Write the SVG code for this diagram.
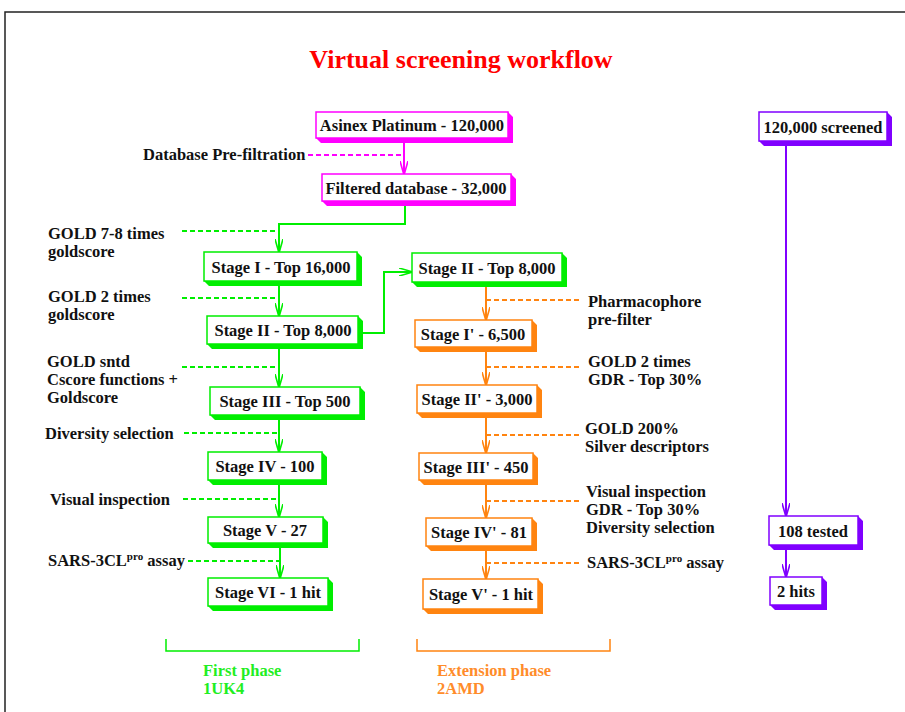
<svg xmlns="http://www.w3.org/2000/svg" width="905" height="712" viewBox="0 0 905 712">
<style>
text{font-family:"Liberation Serif","Times New Roman",serif;font-weight:bold;font-size:16.5px;fill:#111}
.c{text-anchor:middle}
.box{fill:#fff;stroke-width:1.5}
.m .box{stroke:#ff00ff}.m .sh{fill:#ff00ff}
.g .box{stroke:#00ee00}.g .sh{fill:#00ee00}
.o .box{stroke:#ff8410}.o .sh{fill:#ff8410}
.p .box{stroke:#8000ff}.p .sh{fill:#8000ff}
.ln{fill:none;stroke-width:2}
.d{stroke-dasharray:5,3}
.lm{stroke:#ff00ff}.lg{stroke:#00ee00}.lo{stroke:#ff8410}.lp{stroke:#8000ff}
</style>
<defs>
<marker id="am" viewBox="0 0 14 8" refX="13" refY="4" markerWidth="14" markerHeight="8" markerUnits="userSpaceOnUse" orient="auto"><path d="M0,0 L14,4 L0,8" fill="none" stroke="#ff00ff" stroke-width="1.6"/></marker>
<marker id="ag" viewBox="0 0 14 8" refX="13" refY="4" markerWidth="14" markerHeight="8" markerUnits="userSpaceOnUse" orient="auto"><path d="M0,0 L14,4 L0,8" fill="none" stroke="#00ee00" stroke-width="1.6"/></marker>
<marker id="ao" viewBox="0 0 14 8" refX="13" refY="4" markerWidth="14" markerHeight="8" markerUnits="userSpaceOnUse" orient="auto"><path d="M0,0 L14,4 L0,8" fill="none" stroke="#ff8410" stroke-width="1.6"/></marker>
<marker id="ap" viewBox="0 0 14 8" refX="13" refY="4" markerWidth="14" markerHeight="8" markerUnits="userSpaceOnUse" orient="auto"><path d="M0,0 L14,4 L0,8" fill="none" stroke="#8000ff" stroke-width="1.6"/></marker>
</defs>
<rect width="905" height="712" fill="#fff"/>
<path d="M5,712 V12 H905" fill="none" stroke="#222" stroke-width="1.5"/>
<text x="461" y="68" class="c" style="font-size:26px;fill:#ff0000">Virtual screening workflow</text>

<g id="connectors">
<path class="ln lm" d="M404,143 V174" marker-end="url(#am)"/>
<path class="ln lm d" d="M308,155 H404"/>
<path class="ln lg" d="M405,206 V224 H279 V252" marker-end="url(#ag)"/>
<path class="ln lg d" d="M182,231 H279"/>
<path class="ln lg" d="M279,286 V316" marker-end="url(#ag)"/>
<path class="ln lg d" d="M182,298 H279"/>
<path class="ln lg" d="M363,333 H384 V272 H412" marker-end="url(#ag)"/>
<path class="ln lg" d="M279,349 V387" marker-end="url(#ag)"/>
<path class="ln lg d" d="M182,367 H279"/>
<path class="ln lg" d="M279,420 V452" marker-end="url(#ag)"/>
<path class="ln lg d" d="M184,433 H279"/>
<path class="ln lg" d="M279,485 V517" marker-end="url(#ag)"/>
<path class="ln lg d" d="M183,499 H279"/>
<path class="ln lg" d="M280,548 V578" marker-end="url(#ag)"/>
<path class="ln lg d" d="M188,561 H280"/>
<path class="ln lo" d="M486,287 V320" marker-end="url(#ao)"/>
<path class="ln lo d" d="M486,300 H582"/>
<path class="ln lo" d="M486,352 V385" marker-end="url(#ao)"/>
<path class="ln lo d" d="M486,367 H582"/>
<path class="ln lo" d="M486,418 V453" marker-end="url(#ao)"/>
<path class="ln lo d" d="M486,435 H580"/>
<path class="ln lo" d="M486,485 V518" marker-end="url(#ao)"/>
<path class="ln lo d" d="M486,501 H582"/>
<path class="ln lo" d="M486,551 V579" marker-end="url(#ao)"/>
<path class="ln lo d" d="M486,563 H582"/>
<path class="ln lp" d="M786,146 V516" marker-end="url(#ap)"/>
<path class="ln lp" d="M786,550 V577" marker-end="url(#ap)"/>
<path d="M166,639 V651 H359 V639" fill="none" stroke="#00ee00" stroke-width="1.5"/>
<path d="M417,639 V651 H610 V639" fill="none" stroke="#ff8410" stroke-width="1.5"/>
</g>

<g id="asinex" class="m"><polygon class="sh" points="508,112 513,117 513,143 321,143 316,138 508,138"/><rect class="box" x="316" y="112" width="192" height="26"/><text x="412" y="131" class="c">Asinex Platinum - 120,000</text></g>
<g id="filtered" class="m"><polygon class="sh" points="511,174 516,179 516,206 327,206 322,201 511,201"/><rect class="box" x="322" y="174" width="189" height="27"/><text x="416" y="194" class="c">Filtered database - 32,000</text></g>

<g id="stage1" class="g"><polygon class="sh" points="357,252 362,257 362,286 209,286 204,281 357,281"/><rect class="box" x="204" y="252" width="153" height="29"/><text x="281" y="273" class="c">Stage I - Top 16,000</text></g>
<g id="stage2" class="g"><polygon class="sh" points="358,316 363,321 363,349 212,349 207,344 358,344"/><rect class="box" x="207" y="316" width="151" height="28"/><text x="283" y="336" class="c">Stage II - Top 8,000</text></g>
<g id="stage3" class="g"><polygon class="sh" points="360,387 365,392 365,420 215,420 210,415 360,415"/><rect class="box" x="210" y="387" width="150" height="28"/><text x="285" y="407" class="c">Stage III - Top 500</text></g>
<g id="stage4" class="g"><polygon class="sh" points="322,452 327,457 327,485 213,485 208,480 322,480"/><rect class="box" x="208" y="452" width="114" height="28"/><text x="265" y="472" class="c">Stage IV - 100</text></g>
<g id="stage5" class="g"><polygon class="sh" points="323,517 328,522 328,548 213,548 208,543 323,543"/><rect class="box" x="208" y="517" width="115" height="26"/><text x="265" y="536" class="c">Stage V - 27</text></g>
<g id="stage6" class="g"><polygon class="sh" points="328,578 333,583 333,611 213,611 208,606 328,606"/><rect class="box" x="208" y="578" width="120" height="28"/><text x="268" y="598" class="c">Stage VI - 1 hit</text></g>

<g id="stage2b" class="g"><polygon class="sh" points="562,253 567,258 567,287 417,287 412,282 562,282"/><rect class="box" x="412" y="253" width="150" height="29"/><text x="487" y="274" class="c">Stage II - Top 8,000</text></g>
<g id="stage1p" class="o"><polygon class="sh" points="532,320 537,325 537,352 420,352 415,347 532,347"/><rect class="box" x="415" y="320" width="117" height="27"/><text x="473" y="340" class="c">Stage I' - 6,500</text></g>
<g id="stage2p" class="o"><polygon class="sh" points="537,385 542,390 542,418 422,418 417,413 537,413"/><rect class="box" x="417" y="385" width="120" height="28"/><text x="477" y="405" class="c">Stage II' - 3,000</text></g>
<g id="stage3p" class="o"><polygon class="sh" points="533,453 538,458 538,485 424,485 419,480 533,480"/><rect class="box" x="419" y="453" width="114" height="27"/><text x="476" y="473" class="c">Stage III' - 450</text></g>
<g id="stage4p" class="o"><polygon class="sh" points="532,518 537,523 537,551 431,551 426,546 532,546"/><rect class="box" x="426" y="518" width="106" height="28"/><text x="479" y="538" class="c">Stage IV' - 81</text></g>
<g id="stage5p" class="o"><polygon class="sh" points="538,579 543,584 543,614 428,614 423,609 538,609"/><rect class="box" x="423" y="579" width="115" height="30"/><text x="481" y="600" class="c">Stage V' - 1 hit</text></g>

<g id="screened" class="p"><polygon class="sh" points="887,112 892,117 892,146 764,146 759,141 887,141"/><rect class="box" x="759" y="112" width="128" height="29"/><text x="823" y="133" class="c">120,000 screened</text></g>
<g id="tested" class="p"><polygon class="sh" points="858,516 863,521 863,550 774,550 769,545 858,545"/><rect class="box" x="769" y="516" width="89" height="29"/><text x="813" y="537" class="c">108 tested</text></g>
<g id="hits" class="p"><polygon class="sh" points="822,577 827,582 827,610 775,610 770,605 822,605"/><rect class="box" x="770" y="577" width="52" height="28"/><text x="796" y="597" class="c">2 hits</text></g>

<g id="labels">
<text x="143" y="160">Database Pre-filtration</text>
<text x="48" y="239">GOLD 7-8 times</text>
<text x="48" y="257">goldscore</text>
<text x="48" y="302">GOLD 2 times</text>
<text x="48" y="320">goldscore</text>
<text x="47" y="367">GOLD sntd</text>
<text x="47" y="385">Cscore functions +</text>
<text x="47" y="403">Goldscore</text>
<text x="45" y="439">Diversity selection</text>
<text x="50" y="505">Visual inspection</text>
<text x="48" y="566">SARS-3CL<tspan dy="-6" style="font-size:11px">pro</tspan><tspan dy="6"> assay</tspan></text>
<text x="588" y="307">Pharmacophore</text>
<text x="588" y="325">pre-filter</text>
<text x="588" y="367">GOLD 2 times</text>
<text x="588" y="385">GDR - Top 30%</text>
<text x="585" y="434">GOLD 200%</text>
<text x="585" y="452">Silver descriptors</text>
<text x="586" y="497">Visual inspection</text>
<text x="586" y="515">GDR - Top 30%</text>
<text x="586" y="533">Diversity selection</text>
<text x="587" y="568">SARS-3CL<tspan dy="-6" style="font-size:11px">pro</tspan><tspan dy="6"> assay</tspan></text>
<text x="203" y="676" style="fill:#22ee22">First phase</text>
<text x="203" y="694" style="fill:#22ee22">1UK4</text>
<text x="437" y="676" style="fill:#ff8c2a">Extension phase</text>
<text x="437" y="694" style="fill:#ff8c2a">2AMD</text>
</g>
</svg>
